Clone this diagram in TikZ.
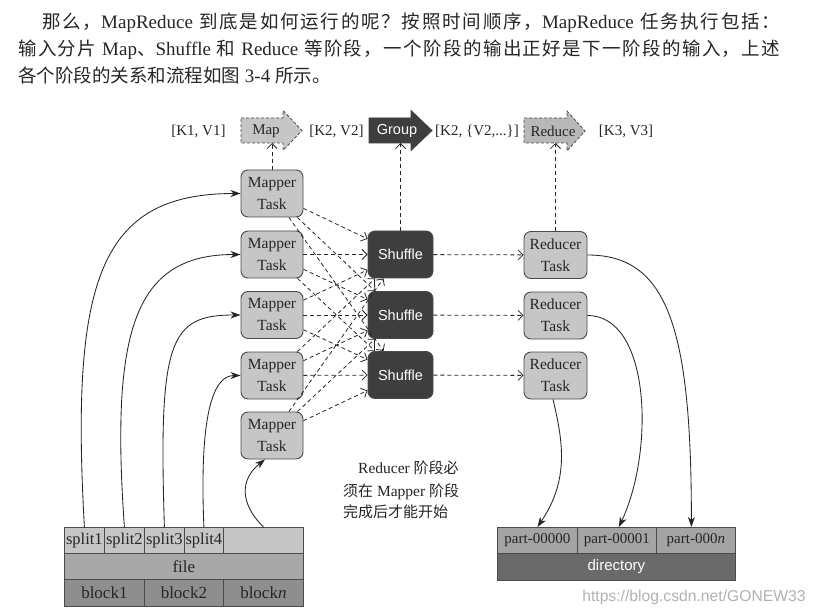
\documentclass[tikz,border=0pt]{standalone}
\usepackage{fontspec}
\setmainfont{Liberation Serif}
\setsansfont{Liberation Sans}
\newfontfamily\cjk{Noto Sans CJK SC}
\usetikzlibrary{arrows.meta}
\newcount\cjkcc
\cjkcc="4E00
\loop \XeTeXcharclass\cjkcc=1 \advance\cjkcc by 1 \ifnum\cjkcc<"A000 \repeat
\XeTeXcharclass"3001=3 \XeTeXcharclass"3002=3 \XeTeXcharclass"FF0C=3
\XeTeXcharclass"FF1A=3 \XeTeXcharclass"FF1F=3
\XeTeXinterchartokenstate=1
\XeTeXinterchartoks 1 1 = {\hskip 0pt plus 3pt\relax}
\XeTeXinterchartoks 1 3 = {\hskip 0pt plus 3pt\relax}
\XeTeXinterchartoks 3 1 = {\hskip 0pt plus 3pt\relax}
\definecolor{lightbox}{HTML}{C6C6C6}
\definecolor{darkbox}{HTML}{3E3E3E}
\definecolor{edge}{HTML}{4A4A4A}
\definecolor{ink}{HTML}{262626}
\definecolor{filerow}{HTML}{A8A8A8}
\definecolor{blockrow}{HTML}{8E8E8E}
\definecolor{partrow}{HTML}{A4A4A4}
\definecolor{dirrow}{HTML}{6A6A6A}
\newcommand{\zhbig}{\cjk\fontsize{18.5}{22}\selectfont}
\newcommand{\enbig}{\fontsize{19}{22}\selectfont}
\newcommand{\zhsm}{\cjk\fontsize{15}{18}\selectfont}
\tikzset{
  task/.style={draw=edge, line width=0.9pt, fill=lightbox, rounded corners=7pt,
    minimum width=62pt, minimum height=47pt, inner sep=0pt, align=center,
    text=ink, font=\fontsize{15.5}{22}\selectfont},
  shuf/.style={task, fill=darkbox, minimum width=65pt, text=white,
    font=\sffamily\fontsize{14.5}{18}\selectfont},
  dflow/.style={draw=ink, line width=0.8pt, dash pattern=on 4pt off 3pt,
    -{Straight Barb[length=5pt,width=10pt]}},
  sflow/.style={draw=ink, line width=0.85pt,
    -{Stealth[length=10pt,width=7pt,inset=3pt]}},
  cell/.style={draw=edge, line width=0.8pt, inner sep=0pt, anchor=north west,
    text=ink},
  kv/.style={text=ink, font=\fontsize{15}{18}\selectfont, inner sep=0pt},
  para/.style={anchor=base west, inner sep=0pt, text=ink},
  arrowbox/.style={draw=edge, line width=0.8pt, dash pattern=on 3pt off 2pt, fill=lightbox}
}
\begin{document}
\begin{tikzpicture}[x=1pt,y=-1pt]
\useasboundingbox (0,0) rectangle (815,615);
\fill[white] (0,0) rectangle (815,615);

% paragraph
\node[para] (t1) at (42,29) {\makebox[738pt][s]{{\zhbig 那么，}{\enbig MapReduce }{\zhbig 到底是如何运行的呢？按照时间顺序，}{\enbig MapReduce }{\zhbig 任务执行包括：}}};
\node[para] (t2) at (18,55.5) {\makebox[762pt][s]{{\zhbig 输入分片}{\enbig\ Map}{\zhbig 、}{\enbig Shuffle }{\zhbig 和}{\enbig\ Reduce }{\zhbig 等阶段，一个阶段的输出正好是下一阶段的输入，上述}}};
\node[para] (t3) at (18,83) {{\zhbig 各个阶段的关系和流程如图}{\enbig\ 3-4 }{\zhbig 所示。}};

% top stage arrows
\path[arrowbox] (241,118) -- (283,118) -- (283,110.5) -- (302,130.5) -- (283,150.5) -- (283,143) -- (241,143) -- cycle;
\node[kv] (map) at (266,131) {Map};
\path[draw=darkbox, line width=0.8pt, fill=darkbox] (369,118) -- (411,118) -- (411,110.5) -- (432,130.5) -- (411,150.5) -- (411,143) -- (369,143) -- cycle;
\node[kv, text=white, font=\sffamily\fontsize{14.5}{18}\selectfont] (group) at (397,131) {Group};
\path[arrowbox, fill=black!28] (524,118) -- (567,118) -- (567,111) -- (585,131) -- (567,151) -- (567,143) -- (524,143) -- cycle;
\node[kv] (reduce) at (553,131) {Reduce};
\coordinate (mapb) at (272,143);
\coordinate (groupb) at (400.5,143);
\coordinate (reduceb) at (555.5,143);

\node[kv] (kv1) at (198.5,131) {[K1, V1]};
\node[kv] (kv2) at (336.5,131) {[K2, V2]};
\node[kv] (kv3) at (477,131) {[K2, \{V2,...\}]};
\node[kv] (kv4) at (626,131) {[K3, V3]};

% tasks
\node[task] (m1) at (272,193.5) {Mapper\\Task};
\node[task] (m2) at (272,254.5) {Mapper\\Task};
\node[task] (m3) at (272,315) {Mapper\\Task};
\node[task] (m4) at (272,375.5) {Mapper\\Task};
\node[task] (m5) at (272,435.5) {Mapper\\Task};
\node[shuf] (s1) at (400.5,254.5) {Shuffle};
\node[shuf] (s2) at (400.5,315) {Shuffle};
\node[shuf] (s3) at (400.5,375) {Shuffle};
\node[task, minimum width=63pt] (r1) at (555.5,255) {Reducer\\Task};
\node[task, minimum width=63pt] (r2) at (555.5,315.5) {Reducer\\Task};
\node[task, minimum width=63pt] (r3) at (555.5,375.5) {Reducer\\Task};

% dashed flows
\foreach \i in {1,...,5} {\foreach \j in {1,2,3} {\draw[dflow] (m\i) -- (s\j);}}
\draw[dflow] (s1) -- (r1);
\draw[dflow] (s2) -- (r2);
\draw[dflow] (s3) -- (r3);
\draw[dflow] (m1.north) -- (mapb);
\draw[dflow] (s1.north) -- (groupb);
\draw[dflow] (r1.north) -- (reduceb);

% input table
\node[cell, fill=lightbox, minimum width=40pt, minimum height=26pt, font=\fontsize{16.5}{18}\selectfont] (sp1) at (64,527) {split1};
\node[cell, fill=lightbox, minimum width=40pt, minimum height=26pt, font=\fontsize{16.5}{18}\selectfont] (sp2) at (104,527) {split2};
\node[cell, fill=lightbox, minimum width=40pt, minimum height=26pt, font=\fontsize{16.5}{18}\selectfont] (sp3) at (144,527) {split3};
\node[cell, fill=lightbox, minimum width=39pt, minimum height=26pt, font=\fontsize{16.5}{18}\selectfont] (sp4) at (184,527) {split4};
\node[cell, fill=lightbox, minimum width=80pt, minimum height=26pt] (spb) at (223,527) {};
\node[cell, fill=filerow, minimum width=239pt, minimum height=26pt, font=\fontsize{17}{18}\selectfont] (file) at (64,553) {file};
\node[cell, fill=blockrow, minimum width=80pt, minimum height=27pt, font=\fontsize{17}{18}\selectfont] (b1) at (64,579) {block1};
\node[cell, fill=blockrow, minimum width=79pt, minimum height=27pt, font=\fontsize{17}{18}\selectfont] (b2) at (144,579) {block2};
\node[cell, fill=blockrow, minimum width=80pt, minimum height=27pt, font=\fontsize{17}{18}\selectfont] (bn) at (223,579) {block\textit{n}};

% output table
\node[cell, fill=partrow, minimum width=80pt, minimum height=26pt, font=\fontsize{15}{18}\selectfont] (p1) at (497,527) {part-00000};
\node[cell, fill=partrow, minimum width=79pt, minimum height=26pt, font=\fontsize{15}{18}\selectfont] (p2) at (577,527) {part-00001};
\node[cell, fill=partrow, minimum width=79pt, minimum height=26pt, font=\fontsize{15}{18}\selectfont] (p3) at (656,527) {part-000\textit{n}};
\node[cell, fill=dirrow, minimum width=238pt, minimum height=27pt, text=white, font=\sffamily\fontsize{15}{18}\selectfont] (dir) at (497,553) {directory};

% split -> mapper curves
\draw[sflow] (sp1.north) .. controls +(-14,-247) and +(-141,0) .. (m1.west);
\draw[sflow] (sp2.north) .. controls +(-14,-197) and +(-106,0) .. (m2.west);
\draw[sflow] (sp3.north) .. controls +(-6,-187) and +(-71,0) .. (m3.west);
\draw[sflow] (sp4.north) .. controls +(-4.5,-107) and +(-29,0) .. (m4.west);
\draw[sflow] (spb.north) .. controls +(-25,-25) and +(-24,19) .. ([xshift=-7pt]m5.south);

% reducer -> part curves
\draw[sflow] (r1.east) .. controls +(80,0) and +(0,-200) .. ([xshift=-4.5pt]p3.north);
\draw[sflow] (r2.east) .. controls +(63,0) and +(36,-77) .. ([xshift=2pt]p2.north);
\draw[sflow] ([xshift=-2.5pt]r3.south) .. controls +(10,42) and +(32,-47) .. (p1.north);

% caption
\node[para] (c1) at (358,473.5) {{\fontsize{15.5}{18}\selectfont Reducer }{\zhsm 阶段必}};
\node[para] (c2) at (343,496.7) {{\zhsm 须在}{\fontsize{15.5}{18}\selectfont\ Mapper }{\zhsm 阶段}};
\node[para] (c3) at (343,517.4) {{\zhsm 完成后才能开始}};

% watermark
\node[inner sep=0pt, text=black!30, font=\sffamily\fontsize{15.7}{18}\selectfont] (wm) at (694,597) {https://blog.csdn.net/GONEW33};
\end{tikzpicture}
\end{document}
